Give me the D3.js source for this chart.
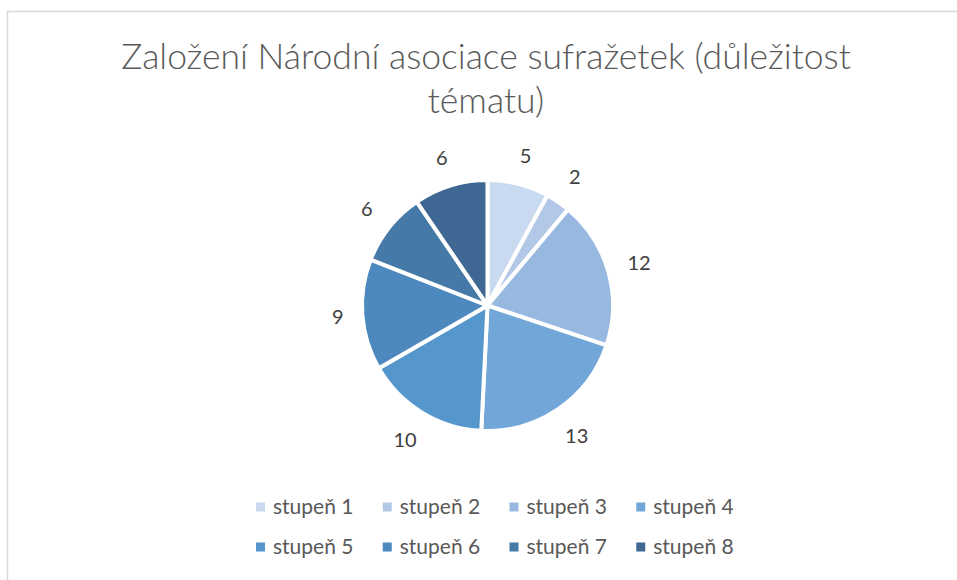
<!DOCTYPE html>
<html>
<head>
<meta charset="utf-8">
<script src="https://cdn.jsdelivr.net/npm/d3@7"></script>
<style>
  html, body { margin: 0; padding: 0; background: #fff; }
  svg { display: block; }
</style>
</head>
<body>
<script>
// chart data
var titleLines = ["Založení Národní asociace sufražetek (důležitost", "tématu)"];
var categories = ["stupeň 1", "stupeň 2", "stupeň 3", "stupeň 4", "stupeň 5", "stupeň 6", "stupeň 7", "stupeň 8"];
var values = [5, 2, 12, 13, 10, 9, 6, 6];
var colors = ["#c9d9ef", "#b3c8e6", "#98b9df", "#72a6d8", "#5596cc", "#4d88bf", "#4579a8", "#3e6893"];

var width = 957, height = 580;
var font = "Lato, 'Open Sans', sans-serif";

var svg = d3.select("body").append("svg")
    .attr("width", width)
    .attr("height", height);

// chart area border (runs off right and bottom)
svg.append("rect")
    .attr("x", 7.5).attr("y", 11.5)
    .attr("width", width + 10).attr("height", height + 10)
    .attr("fill", "#fff")
    .attr("stroke", "#d9d9d9")
    .attr("stroke-width", 1.5);

// title
svg.append("g").selectAll("text")
    .data(titleLines)
    .join("text")
    .attr("x", 486)
    .attr("y", function (d, i) { return 69 + i * 44; })
    .attr("text-anchor", "middle")
    .attr("font-family", font)
    .attr("font-size", 35.5)
    .attr("font-weight", 300)
    .attr("fill", "#595959")
    .text(function (d) { return d; });

// pie
var cx = 487.5, cy = 305.5, r = 125.5;
var pie = d3.pie().sort(null).value(function (d) { return d; });
var arc = d3.arc().innerRadius(0).outerRadius(r);
var arcs = pie(values);

var g = svg.append("g").attr("transform", "translate(" + cx + "," + cy + ")");

g.selectAll("path")
    .data(arcs)
    .join("path")
    .attr("d", arc)
    .attr("fill", function (d, i) { return colors[i]; })
    .attr("stroke", "#fff")
    .attr("stroke-width", 4)
    .attr("stroke-linejoin", "round");

// outside-end labels: push the text box out so its edge clears the rim
g.selectAll("text.lbl")
    .data(arcs)
    .join("text")
    .attr("class", "lbl")
    .attr("text-anchor", "middle")
    .attr("dy", "0.35em")
    .attr("font-family", font)
    .attr("font-size", 20)
    .attr("fill", "#404040")
    .text(function (d) { return d.data; })
    .attr("transform", function (d) {
        var a = (d.startAngle + d.endAngle) / 2;
        var s = Math.sin(a), c = -Math.cos(a);
        var w = this.getComputedTextLength();
        var dist = r + 18 + Math.abs(s) * w / 2 + Math.abs(c) * 10;
        return "translate(" + (s * dist) + "," + (c * dist) + ")";
    });

// legend: two rows of four
var legendX = d3.scaleBand().domain(d3.range(4)).range([256, 763]);
var legendY = d3.scaleBand().domain(d3.range(2)).range([487, 567]);

var items = svg.append("g").selectAll("g")
    .data(categories)
    .join("g")
    .attr("transform", function (d, i) {
        return "translate(" + legendX(i % 4) + "," + (legendY(Math.floor(i / 4)) + legendY.bandwidth() / 2) + ")";
    });

items.append("rect")
    .attr("x", 0).attr("y", -4.5)
    .attr("width", 9).attr("height", 9)
    .attr("fill", function (d, i) { return colors[i]; });

items.append("text")
    .attr("x", 17)
    .attr("dy", "0.35em")
    .attr("font-family", font)
    .attr("font-size", 21)
    .attr("fill", "#595959")
    .text(function (d) { return d; });
</script>
</body>
</html>
